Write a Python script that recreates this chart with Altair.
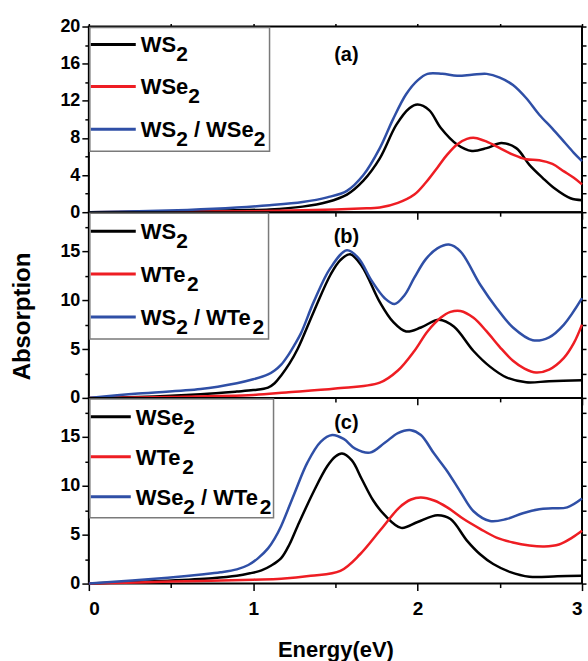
import altair as alt
import pandas as pd

FONT = "Liberation Sans"
COLORS = ["#000000", "#ee1d23", "#2f4fa6"]

# ---------------- panel (a) ----------------
a_names = ["WS2", "WSe2", "WS2 / WSe2"]
a_E1 = [0, 0.3, 0.6, 0.9, 1.1, 1.3, 1.45, 1.57, 1.67, 1.77, 1.87, 1.95, 2.0, 2.07, 2.14, 2.24, 2.33, 2.42, 2.51, 2.6, 2.68, 2.76, 2.83, 2.93, 3.0]
a_A1 = [0, 0.05, 0.12, 0.22, 0.3, 0.6, 1.1, 1.9, 3.4, 5.8, 9.4, 11.2, 11.6, 11.0, 9.1, 7.3, 6.6, 6.9, 7.45, 6.9, 5.1, 3.7, 2.6, 1.5, 1.3]
a_E2 = [0, 0.5, 1.0, 1.3, 1.5, 1.65, 1.77, 1.88, 1.98, 2.05, 2.12, 2.18, 2.24, 2.3, 2.35, 2.42, 2.5, 2.58, 2.66, 2.74, 2.82, 2.89, 2.95, 3.0]
a_A2 = [0, 0.05, 0.1, 0.2, 0.3, 0.4, 0.5, 1.0, 1.9, 3.2, 4.8, 6.2, 7.3, 7.9, 8.0, 7.6, 6.9, 6.2, 5.7, 5.6, 5.2, 4.4, 3.7, 3.0]
a_E3 = [0, 0.3, 0.6, 0.9, 1.1, 1.3, 1.45, 1.57, 1.67, 1.77, 1.85, 1.93, 2.0, 2.06, 2.15, 2.24, 2.33, 2.42, 2.5, 2.58, 2.66, 2.74, 2.82, 2.89, 2.95, 3.0]
a_A3 = [0, 0.1, 0.25, 0.5, 0.75, 1.1, 1.6, 2.3, 4.0, 6.9, 10.0, 12.7, 14.2, 14.9, 14.9, 14.7, 14.8, 14.9, 14.5, 13.7, 12.3, 10.5, 9.0, 7.6, 6.4, 5.5]

# ---------------- panel (b) ----------------
b_names = ["WS2", "WTe2", "WS2 / WTe2"]
b_E1 = [0, 0.3, 0.68, 0.9, 1.0, 1.09, 1.13, 1.17, 1.22, 1.27, 1.37, 1.47, 1.53, 1.59, 1.66, 1.77, 1.85, 1.93, 2.02, 2.13, 2.22, 2.34, 2.44, 2.54, 2.66, 2.8, 3.0]
b_A1 = [0, 0.1, 0.38, 0.65, 0.8, 1.05, 1.5, 2.3, 3.5, 5.0, 8.9, 12.6, 14.1, 14.7, 13.5, 9.8, 7.8, 6.8, 7.2, 8.0, 7.3, 4.8, 3.2, 2.1, 1.6, 1.7, 1.8]
b_E2 = [0, 0.5, 1.0, 1.2, 1.5, 1.77, 1.88, 1.98, 2.06, 2.14, 2.2, 2.26, 2.34, 2.42, 2.5, 2.58, 2.65, 2.72, 2.8, 2.89, 2.95, 3.0]
b_A2 = [0, 0.1, 0.3, 0.55, 0.95, 1.56, 2.8, 4.8, 6.8, 8.2, 8.8, 8.9, 8.2, 6.8, 5.2, 3.8, 3.0, 2.6, 2.9, 4.1, 5.6, 7.5]
b_E3 = [0, 0.3, 0.68, 0.9, 1.0, 1.09, 1.13, 1.17, 1.21, 1.25, 1.29, 1.37, 1.47, 1.57, 1.64, 1.72, 1.8, 1.86, 1.92, 1.98, 2.05, 2.12, 2.19, 2.26, 2.38, 2.48, 2.58, 2.7, 2.8, 2.89, 3.0]
b_A3 = [0, 0.45, 0.9, 1.5, 1.9, 2.4, 2.8, 3.4, 4.3, 5.4, 6.6, 9.9, 13.3, 15.1, 14.3, 12.0, 10.2, 9.6, 10.5, 12.3, 14.2, 15.3, 15.7, 15.0, 11.6, 9.2, 7.2, 5.9, 6.2, 7.5, 10.2]

# ---------------- panel (c) ----------------
c_names = ["WSe2", "WTe2", "WSe2 / WTe2"]
c_E1 = [0, 0.48, 0.75, 0.9, 0.98, 1.05, 1.11, 1.17, 1.22, 1.27, 1.37, 1.45, 1.5, 1.54, 1.6, 1.66, 1.73, 1.8, 1.9, 2.0, 2.12, 2.2, 2.3, 2.38, 2.46, 2.56, 2.68, 2.85, 3.0]
c_A1 = [0, 0.3, 0.55, 0.8, 1.05, 1.35, 1.85, 2.6, 4.0, 5.9, 9.5, 12.0, 13.0, 13.3, 12.6, 10.7, 8.5, 7.0, 5.7, 6.3, 7.0, 6.6, 4.4, 3.0, 2.0, 1.2, 0.7, 0.75, 0.8]
c_E2 = [0, 0.5, 1.0, 1.17, 1.35, 1.53, 1.65, 1.77, 1.89, 1.96, 2.02, 2.1, 2.18, 2.28, 2.38, 2.48, 2.58, 2.68, 2.77, 2.86, 2.94, 3.0]
c_A2 = [0, 0.2, 0.4, 0.5, 0.8, 1.3, 3.0, 5.4, 7.8, 8.6, 8.8, 8.5, 7.8, 6.6, 5.6, 4.7, 4.2, 3.9, 3.8, 4.0, 4.7, 5.4]
c_E3 = [0, 0.48, 0.7, 0.8, 0.9, 0.97, 1.03, 1.09, 1.13, 1.17, 1.25, 1.33, 1.41, 1.48, 1.55, 1.62, 1.71, 1.8, 1.88, 1.96, 2.02, 2.1, 2.18, 2.26, 2.34, 2.44, 2.54, 2.64, 2.74, 2.82, 2.91, 3.0]
c_A3 = [0, 0.6, 0.95, 1.15, 1.45, 1.9, 2.6, 3.6, 4.6, 5.9, 9.2, 12.4, 14.5, 15.2, 14.8, 13.8, 13.4, 14.4, 15.4, 15.7, 15.2, 13.3, 11.5, 9.4, 7.4, 6.4, 6.6, 7.2, 7.6, 7.7, 7.8, 8.7]

panel_tags = ["(a)", "(b)", "(c)"]
x_ticks = [0, 0.5, 1, 1.5, 2, 2.5, 3]

# glyph advance widths (Liberation Sans Bold, em units) for legend layout
ADV = {"W": 0.944, "S": 0.667, "e": 0.556, "T": 0.611, "2": 0.556, " ": 0.278, "/": 0.278}
MAIN_SIZE, SUB_SIZE = 22, 21


def adv(s, size):
    return sum(ADV.get(c, 0.6) for c in s) * size


def segments(name):
    segs, cur = [], ""
    for ch in name:
        if ch.isdigit():
            if cur:
                segs.append((cur, False))
                cur = ""
            segs.append((ch, True))
        else:
            cur += ch
    if cur:
        segs.append((cur, False))
    return segs


def curves_df(names, Es, As):
    frames = []
    for i, (n, E, A) in enumerate(zip(names, Es, As)):
        frames.append(pd.DataFrame({"E": E, "A": A, "s": n, "k": i}))
    return pd.concat(frames, ignore_index=True)


def legend_layers(names, rows, box_w, box_h, lx0, lx1, tx):
    layers = []
    one = pd.DataFrame({"t": [""]})
    layers.append(
        alt.Chart(one).mark_rect(fill="white", stroke="#7a7a7a", strokeWidth=1.5).encode(
            x=alt.value(1), x2=alt.value(box_w), y=alt.value(1), y2=alt.value(box_h)
        )
    )
    for name, col, ry in zip(names, COLORS, rows):
        layers.append(
            alt.Chart(one).mark_rule(strokeWidth=3, color=col).encode(
                x=alt.value(lx0), x2=alt.value(lx1), y=alt.value(ry)
            )
        )
        x = tx
        for seg, sub in segments(name):
            size = SUB_SIZE if sub else MAIN_SIZE
            stripped = seg.lstrip(" ")
            x += adv(seg[: len(seg) - len(stripped)], size)
            layers.append(
                alt.Chart(pd.DataFrame({"t": [stripped]})).mark_text(
                    font=FONT, fontWeight="bold", fontSize=size, align="left",
                    baseline="alphabetic", color="black"
                ).encode(
                    text="t:N",
                    x=alt.value(x),
                    y=alt.value(ry + (17 if sub else 8)),
                )
            )
            x += adv(stripped, size)
    return layers


def panel(names, Es, As, ymax, major, minor, tag, tag_y, leg, bottom, title_y=False, top_ticks=False):
    df = curves_df(names, Es, As)
    yvals = []
    v = 0.0
    while v <= ymax + 1e-9:
        yvals.append(round(v, 3))
        v += minor
    ycond = f"datum.value % {major} === 0"
    ykw = dict(
        orient="left", values=yvals, domain=False, grid=False,
        tickSize={"condition": {"test": ycond, "value": 7}, "value": 4},
        labelExpr=f"{ycond} ? format(datum.value, 'd') : ''", labelPadding=2,
        labelFontSize=18, labelFontWeight="bold", labelFont=FONT,
    )
    if title_y:
        ykw.update(title="Absorption", titleFontSize=24, titleFont=FONT, titleFontWeight="bold",
                   titleAngle=270, titleX=-66, titleY=104, titleBaseline="middle", titleAlign="center")
    else:
        ykw["title"] = None
    xcond = "datum.value % 1 === 0"
    xkw = dict(
        orient="bottom", values=x_ticks, domain=False, grid=False,
        tickSize={"condition": {"test": xcond, "value": 7}, "value": 4},
    )
    if bottom:
        xkw.update(labelExpr=f"{xcond} ? format(datum.value, 'd') : ''", labelFontSize=19,
                   labelFontWeight="bold", labelFont=FONT, labelPadding=9, title="Energy(eV)",
                   titleFont=FONT, titleFontSize=22, titleFontWeight="bold", titleY=73,
                   titleBaseline="alphabetic")
    else:
        xkw.update(labels=False, title=None)

    xs = alt.Scale(domain=[0, 3], nice=False, zero=False)
    ys = alt.Scale(domain=[0, ymax], nice=False)

    lines = alt.Chart(df).mark_line(strokeWidth=2.5, interpolate="catmull-rom").encode(
        x=alt.X("E:Q", scale=xs, axis=alt.Axis(**xkw)),
        y=alt.Y("A:Q", scale=ys, axis=alt.Axis(**ykw)),
        color=alt.Color("k:O", scale=alt.Scale(domain=[0, 1, 2], range=COLORS), legend=None),
        detail="s:N",
        order=alt.Order("E:Q"),
    )
    ghost_x_axis = alt.Axis(orient="top", values=x_ticks, labels=False, tickSize=3,
                            domain=False, grid=False, title=None) if top_ticks else None
    ghost = alt.Chart(df).mark_line(strokeOpacity=0).encode(
        x=alt.X("E:Q", scale=xs, axis=ghost_x_axis),
        y=alt.Y("A:Q", scale=ys, axis=alt.Axis(orient="right", values=yvals, labels=False, tickSize=4,
                                              domain=False, grid=False, title=None)),
        detail="s:N",
    )
    label = alt.Chart(pd.DataFrame({"t": [tag]})).mark_text(
        font=FONT, fontWeight="bold", fontSize=20, align="center", baseline="middle", color="black"
    ).encode(text="t:N", x=alt.value(258), y=alt.value(tag_y))

    layers = [lines, ghost] + legend_layers(names, *leg) + [label]
    return alt.layer(*layers).resolve_axis(x="independent", y="independent").properties(
        width=494, height=186
    )


pa = panel(a_names, [a_E1, a_E2, a_E3], [a_A1, a_A2, a_A3], 20, 4, 2, panel_tags[0], 29,
           ([18, 60, 103], 181, 125, 2, 47, 52), bottom=False, top_ticks=True)
pb = panel(b_names, [b_E1, b_E2, b_E3], [b_A1, b_A2, b_A3], 19, 5, 2.5, panel_tags[1], 25,
           ([19, 62, 105], 180, 127, 2, 47, 52), bottom=False, title_y=True)
pc = panel(c_names, [c_E1, c_E2, c_E3], [c_A1, c_A2, c_A3], 19, 5, 2.5, panel_tags[2], 25,
           ([19, 59, 99], 185, 120, 2, 42, 47), bottom=True)

chart = alt.vconcat(pa, pb, pc, spacing=0, bounds="flush").properties(
    padding={"left": 10, "top": 16, "right": 0, "bottom": 0}
).configure_view(stroke="black", strokeWidth=2).configure_axis(
    tickColor="black", tickWidth=1.5, labelColor="black", titleColor="black"
)

chart.save("out.html", embed_options={"renderer": "svg", "actions": False})
